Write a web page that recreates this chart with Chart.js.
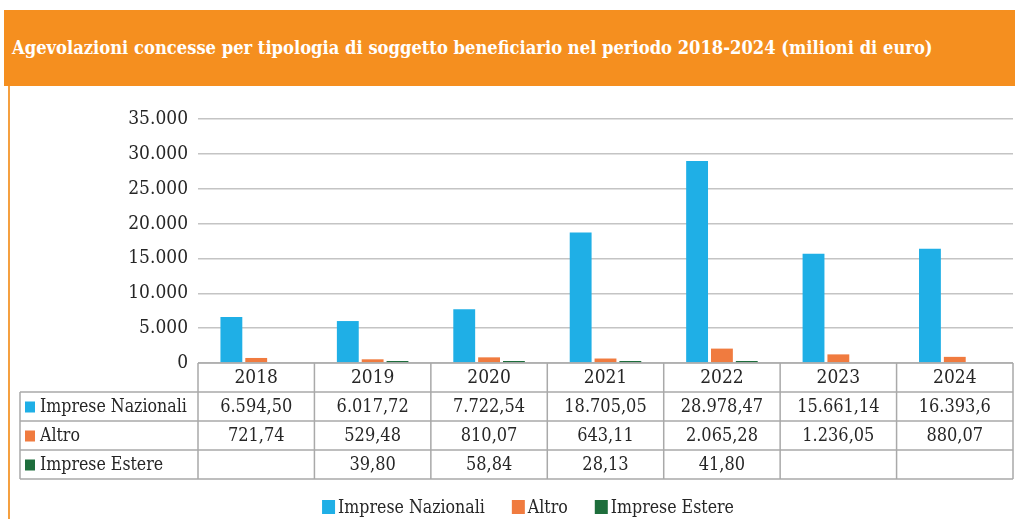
<!DOCTYPE html>
<html lang="it">
<head>
<meta charset="utf-8">
<title>Agevolazioni concesse per tipologia di soggetto beneficiario</title>
<script src="https://cdn.jsdelivr.net/npm/chart.js@4/dist/chart.umd.min.js"></script>
<style>
  html, body { margin: 0; padding: 0; background: #fff; }
  body { width: 1015px; height: 519px; position: relative; overflow: hidden; }
  .header {
    position: absolute; left: 4px; top: 10px; width: 1011px; height: 76px;
    background: #f58f1f; color: #fff;
    font: bold 18.2px "DejaVu Serif Condensed", "DejaVu Serif", serif;
    line-height: 76px; padding-left: 8px; box-sizing: border-box; white-space: nowrap;
  }
  .side { position: absolute; left: 8px; top: 86px; width: 1.5px; height: 433px; background: #f5a040; }
  #wrap { position: absolute; left: 0; top: 0; width: 1015px; height: 519px; }
</style>
</head>
<body>
<div id="wrap"><canvas id="chart"></canvas></div>
<div class="header">Agevolazioni concesse per tipologia di soggetto beneficiario nel periodo 2018-2024 (milioni di euro)</div>
<div class="side"></div>
<script>
const anni = ['2018', '2019', '2020', '2021', '2022', '2023', '2024'];
const impreseNazionali = ['6.594,50', '6.017,72', '7.722,54', '18.705,05', '28.978,47', '15.661,14', '16.393,6'];
const altro = ['721,74', '529,48', '810,07', '643,11', '2.065,28', '1.236,05', '880,07'];
const impreseEstere = ['', '39,80', '58,84', '28,13', '41,80', '', ''];
const serie = ['Imprese Nazionali', 'Altro', 'Imprese Estere'];
const colori = ['#1fafe6', '#f07b3f', '#1e6e3c'];
const yTicks = [0, 5000, 10000, 15000, 20000, 25000, 30000, 35000];

const FONT = '"DejaVu Serif Condensed", "DejaVu Serif", serif';
const TXT = '#262626';
const LINE = '#a9a9a9';

// "6.594,50" -> 6594.5
const toNum = s => s === '' ? null : parseFloat(s.replace(/\./g, '').replace(',', '.'));
const migliaia = v => String(v).replace(/\B(?=(\d{3})+(?!\d))/g, '.');

const righe = [impreseNazionali, altro, impreseEstere];

// data table under the x axis + legend at the bottom
const tabella = {
  id: 'tabella',
  afterDraw(chart) {
    const ctx = chart.ctx;
    const x = chart.scales.x;
    const area = chart.chartArea;
    const top = area.bottom;
    const rowH = 29;
    const left = 20;
    const w = (area.right - area.left) / anni.length;
    ctx.save();
    ctx.strokeStyle = LINE;
    ctx.lineWidth = 1.5;
    ctx.beginPath();
    // horizontal lines
    ctx.moveTo(area.left, top); ctx.lineTo(area.right, top);
    for (let r = 1; r <= 4; r++) {
      ctx.moveTo(left, top + r * rowH); ctx.lineTo(area.right, top + r * rowH);
    }
    // vertical lines
    ctx.moveTo(left, top + rowH); ctx.lineTo(left, top + 4 * rowH);
    for (let c = 0; c <= anni.length; c++) {
      const cx = area.left + c * w;
      ctx.moveTo(cx, top); ctx.lineTo(cx, top + 4 * rowH);
    }
    ctx.stroke();

    ctx.fillStyle = TXT;
    ctx.textBaseline = 'middle';
    ctx.textAlign = 'center';
    ctx.font = '19px ' + FONT;
    anni.forEach((a, i) => ctx.fillText(a, x.getPixelForValue(i), top + rowH / 2 + 1));
    righe.forEach((riga, r) => {
      const cy = top + (r + 1) * rowH + rowH / 2 + 1;
      ctx.font = '18px ' + FONT;
      ctx.textAlign = 'center';
      riga.forEach((v, i) => ctx.fillText(v, x.getPixelForValue(i), cy));
      ctx.fillStyle = colori[r];
      ctx.fillRect(left + 5, cy - 6, 10, 11);
      ctx.fillStyle = TXT;
      ctx.font = '17.6px ' + FONT;
      ctx.textAlign = 'left';
      ctx.fillText(serie[r], left + 20, cy);
    });

    // legend
    const ly = 508;
    ctx.font = '17.6px ' + FONT;
    ctx.textAlign = 'left';
    const gap = 27;
    const widths = serie.map(s => 16 + ctx.measureText(s).width);
    const total = widths.reduce((a, b) => a + b, 0) + gap * (serie.length - 1);
    let lx = 528 - total / 2;
    serie.forEach((s, i) => {
      ctx.fillStyle = colori[i];
      ctx.fillRect(lx, ly - 8, 13, 14);
      ctx.fillStyle = TXT;
      ctx.fillText(s, lx + 16, ly);
      lx += widths[i] + gap;
    });
    ctx.restore();
  }
};

new Chart(document.getElementById('chart'), {
  type: 'bar',
  data: {
    labels: anni,
    datasets: righe.map((riga, i) => ({
      label: serie[i],
      data: riga.map(toNum),
      backgroundColor: colori[i],
      borderWidth: 0,
      minBarLength: i === 2 ? 2 : 0,
      categoryPercentage: 0.64,
      barPercentage: 0.88
    }))
  },
  options: {
    responsive: true,
    maintainAspectRatio: false,
    animation: false,
    layout: { padding: { top: 119, right: 2, bottom: 40, left: 0 } },
    plugins: {
      legend: { display: false },
      tooltip: { enabled: false }
    },
    scales: {
      x: {
        grid: { display: false },
        border: { display: false },
        ticks: { display: false },
        afterFit: s => { s.height = 116; }
      },
      y: {
        min: 0,
        max: 35000,
        afterBuildTicks: s => { s.ticks = yTicks.map(v => ({ value: v })); },
        grid: { color: '#c4c4c4', lineWidth: 1.5, drawTicks: false },
        border: { display: false },
        ticks: {
          padding: 10,
          color: TXT,
          font: { family: FONT, size: 19 },
          callback: v => migliaia(v)
        },
        afterFit: s => { s.width = 198; }
      }
    }
  },
  plugins: [tabella]
});
</script>
</body>
</html>
